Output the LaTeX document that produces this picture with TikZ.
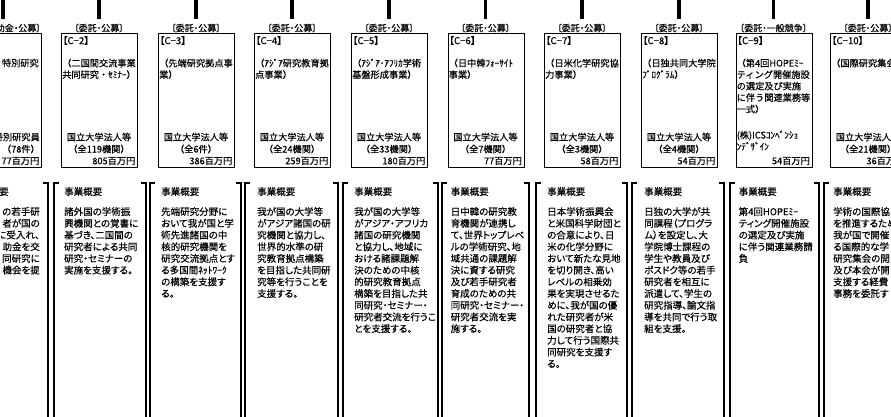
\documentclass[tikz,border=0pt]{standalone}
\usepackage{fontspec}
\newfontfamily\jp[RawFeature=+palt, FakeBold=0.3]{Noto Sans CJK JP}
\newfontfamily\jpn[FakeBold=0.3]{Noto Sans CJK JP}
\newcommand\drawcol[9]{%
  \coordinate (t#1) at (#2+38,0);
  \coordinate (b#1) at (#2+38,19);
  \draw[vline] (t#1) -- (b#1);
  \node[lab] (lab#1) at (#2+38,28) {#3};
  \node[boxst, anchor=north west] (box#1) at (#2,33) {};
  \node[idt, anchor=west] (id#1) at (#2+1.5,40.5) {#4};
  \node[txt, anchor=north west] (ds#1) at (#2+1,58.5) {#5};
  \node[txt] (org#1) at (#2+38,137) {#6};
  \node[txt] (cnt#1) at (#2+38,149) {#7};
  \node[txt, anchor=east] (amt#1) at (#2+74.5,161) {#8};
  \node[bodyt, anchor=west] (hd#1) at (#2+3,191.5) {事業概要};
  \node[bodyt, anchor=north west] (bd#1) at (#2+3,207) {#9};
}
\begin{document}
\begin{tikzpicture}[x=1pt,y=-1pt,
  vline/.style={line width=3.5pt},
  lab/.style={font=\jp\fontsize{9}{10}\selectfont, inner sep=0pt},
  boxst/.style={draw, line width=1.3pt, minimum width=76pt, minimum height=134pt, inner sep=0pt},
  idt/.style={font=\jp\fontsize{9.6}{11.5}\selectfont, inner sep=0pt},
  txt/.style={font=\jpn\fontsize{9.2}{11.5}\selectfont, inner sep=0pt, align=left},
  bodyt/.style={font=\jp\fontsize{9.5}{11.7}\selectfont, inner sep=0pt, align=left},
  rbr/.style={line width=2pt},
  lbr/.style={line width=1.4pt}]
\path[use as bounding box, fill=white] (0,0) rectangle (891,416);
\clip (0,0) rectangle (891,416);

% right brackets closing each column's summary
\foreach \R in {47.5,146,241,338,437.5,529,627,723.5,819,913}{
  \draw[rbr] (\R-5,183) -- (\R,183) -- (\R,420);
}
% left brackets opening each column's summary
\foreach \Lb in {-42,54,150,245,343,442,536,632,730,824}{
  \draw[lbr] (\Lb+5,183) -- (\Lb,183) -- (\Lb,420);
}

% C-1 (cut off at left)
\coordinate (t1) at (3,0);
\coordinate (b1) at (3,19);
\draw[vline] (t1) -- (b1);
\node[lab, anchor=east] (lab1) at (41,28) {〔補助金・公募〕};
\node[boxst, anchor=north west] (box1) at (-35,33) {};
\node[txt, anchor=east] (ds1) at (39,63) {特別研究};
\node[txt, anchor=east] (org1) at (40,137) {特別研究員};
\node[txt, anchor=east] (cnt1) at (40,149) {（78件）};
\node[txt, anchor=east] (amt1) at (39.5,161) {77百万円};
\node[bodyt, anchor=east] (hd1) at (9,191.5) {事業概要};
\node[bodyt, anchor=north east, align=right] (bd1) at (40,207) {の若手研\\者が国の\\に受入れ、\\助金を交\\同研究に\\機会を提};

\drawcol{2}{61}{〔委託・公募〕}{【C−2】}{（二国間交流事業\\共同研究・ｾﾐﾅｰ）}{国立大学法人等}{（全119機関）}{805百万円}
{諸外国の学術振\\興機関との覚書に\\基づき、二国間の\\研究者による共同\\研究・セミナーの\\実施を支援する。}

\drawcol{3}{158}{〔委託・公募〕}{【C−3】}{（先端研究拠点事\\業）}{国立大学法人等}{（全6件）}{386百万円}
{先端研究分野に\\おいて我が国と学\\術先進諸国の中\\核的研究機関を\\研究交流拠点とす\\る多国間{\jpn ﾈｯﾄﾜｰｸ}\\の構築を支援す\\る。}

\drawcol{4}{254}{〔委託・公募〕}{【C−4】}{（ｱｼﾞｱ研究教育拠\\点事業）}{国立大学法人等}{（全24機関）}{259百万円}
{我が国の大学等\\がアジア諸国の研\\究機関と協力し、\\世界的水準の研\\究教育拠点構築\\を目指した共同研\\究等を行うことを\\支援する。}

\drawcol{5}{351}{〔委託・公募〕}{【C−5】}{（ｱｼﾞｱ･ｱﾌﾘｶ学術\\基盤形成事業）}{国立大学法人等}{（全33機関）}{180百万円}
{我が国の大学等\\がアジア・アフリカ\\諸国の研究機関\\と協力し、地域に\\おける諸課題解\\決のための中核\\的研究教育拠点\\構築を目指した共\\同研究・セミナー・\\研究者交流を行うこ\\とを支援する。}

\drawcol{6}{447.5}{〔委託・公募〕}{【C−6】}{（日中韓ﾌｫｰｻｲﾄ\\事業）}{国立大学法人等}{（全7機関）}{77百万円}
{日中韓の研究教\\育機関が連携し\\て、世界トップレベ\\ルの学術研究、地\\域共通の課題解\\決に資する研究\\及び若手研究者\\育成のための共\\同研究・セミナー・\\研究者交流を実\\施する。}

\drawcol{7}{544}{〔委託・公募〕}{【C−7】}{（日米化学研究協\\力事業）}{国立大学法人等}{（全3機関）}{58百万円}
{日本学術振興会\\と米国科学財団と\\の合意により、日\\米の化学分野に\\おいて新たな見地\\を切り開き、高い\\レベルの相乗効\\果を実現させるた\\めに、我が国の優\\れた研究者が米\\国の研究者と協\\力して行う国際共\\同研究を支援す\\る。}

\drawcol{8}{641}{〔委託・公募〕}{【C−8】}{（日独共同大学院\\ﾌﾟﾛｸﾞﾗﾑ）}{国立大学法人等}{（全4機関）}{54百万円}
{日独の大学が共\\同課程（プログラ\\ム）を設定し、大\\学院博士課程の\\学生や教員及び\\ポスドク等の若手\\研究者を相互に\\派遣して、学生の\\研究指導、論文指\\導を共同で行う取\\組を支援。}

% C-9
\coordinate (t9) at (773.5,0);
\coordinate (b9) at (773.5,19);
\draw[vline] (t9) -- (b9);
\node[lab] (lab9) at (773.5,28) {〔委託・一般競争〕};
\node[boxst, anchor=north west] (box9) at (735.5,33) {};
\node[idt, anchor=west] (id9) at (737,40.5) {【C−9】};
\node[txt, anchor=north west] (ds9) at (736.5,58.5) {（第4回HOPEﾐｰ\\ティング開催施設\\の選定及び実施\\に伴う関連業務等\\一式）};
\node[txt, anchor=north west] (co9) at (736.5,130.5) {(株)ICSｺﾝﾍﾞﾝｼｮ\\ﾝﾃﾞｻﾞｲﾝ};
\node[txt, anchor=east] (amt9) at (810,161) {54百万円};
\node[bodyt, anchor=west] (hd9) at (738.5,191.5) {事業概要};
\node[bodyt, anchor=north west] (bd9) at (738.5,207) {第4回HOPE{\jpn ﾐｰ}\\ティング開催施設\\の選定及び実施\\に伴う関連業務請\\負};

\drawcol{10}{830}{〔委託・公募〕}{【C−10】}{（国際研究集会}{国立大学法人等}{（全21機関）}{36百万円}
{学術の国際協\\を推進するため\\我が国で開催\\る国際的な学\\研究集会の開\\及び本会が開\\支援する経費\\事務を委託す}
\end{tikzpicture}
\end{document}
